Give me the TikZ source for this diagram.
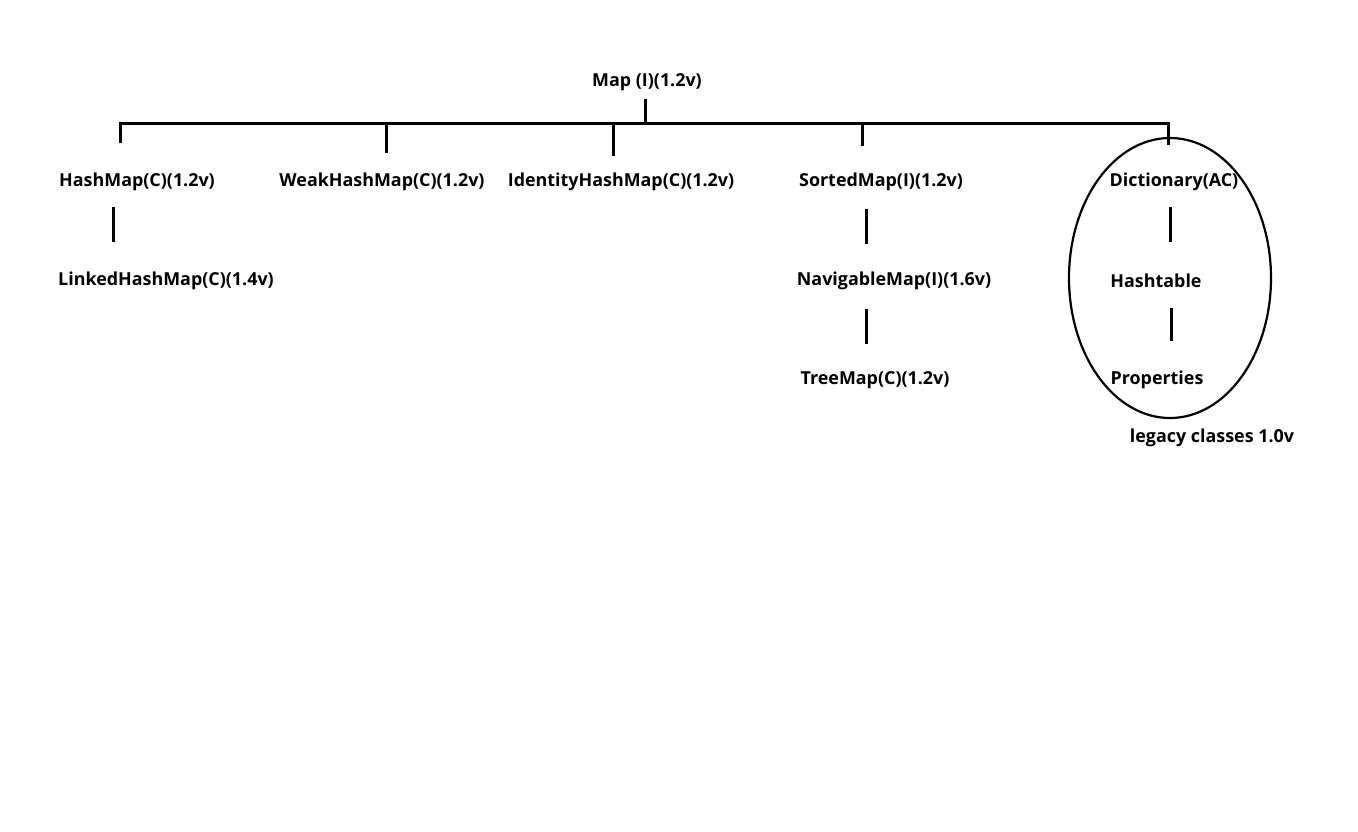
\documentclass[tikz,border=0pt]{standalone}
\usepackage{fontspec}
\setmainfont{Open Sans}
\usetikzlibrary{shapes.geometric}
\begin{document}
\begin{tikzpicture}[x=1pt,y=-1pt,
  cls/.style={inner sep=0pt, font=\fontsize{17.9}{20}\selectfont\bfseries},
  bar/.style={line width=3pt},
  ring/.style={draw, ellipse, line width=2.2pt, inner sep=0pt}]
\useasboundingbox[fill=white] (0,0) rectangle (1358,831);

% class and interface labels
\node[cls] (map)  at (647,82)  {Map (I)(1.2v)};
\node[cls] (hm)   at (137,182) {HashMap(C)(1.2v)};
\node[cls] (whm)  at (382,182) {WeakHashMap(C)(1.2v)};
\node[cls] (ihm)  at (621,182) {IdentityHashMap(C)(1.2v)};
\node[cls] (sm)   at (881,182) {SortedMap(I)(1.2v)};
\node[cls] (dict) at (1174,182) {Dictionary(AC)};
\node[cls] (lhm)  at (166,281) {LinkedHashMap(C)(1.4v)};
\node[cls] (nm)   at (894,281) {NavigableMap(I)(1.6v)};
\node[cls] (ht)   at (1156,281) {Hashtable};
\node[cls] (tm)   at (875,380) {TreeMap(C)(1.2v)};
\node[cls] (prop) at (1157,380) {Properties};
\node[cls] (leg)  at (1212,438) {legacy classes 1.0v};

% ring around the legacy classes
\node[ring, minimum width=202, minimum height=280] (legring) at (1170,278) {};

% stub end points
\coordinate (mapdrop) at (645,99);
\coordinate (barmid)  at (645,123);
\coordinate (barL)    at (120,123);
\coordinate (barR)    at (1168,123);
\coordinate (hmtop)   at (120,143);
\coordinate (whmbar)  at (386,123);
\coordinate (whmtop)  at (386,153);
\coordinate (ihmbar)  at (613,123);
\coordinate (ihmtop)  at (613,156);
\coordinate (smbar)   at (862,123);
\coordinate (smtop)   at (862,146);
\coordinate (dicttop) at (1168,145);
\coordinate (hmA)  at (113,207);  \coordinate (hmB)  at (113,242);
\coordinate (smA)  at (866,209);  \coordinate (smB)  at (866,244);
\coordinate (nmA)  at (866,309);  \coordinate (nmB)  at (866,344);
\coordinate (dA)   at (1170,207); \coordinate (dB)   at (1170,242);
\coordinate (hA)   at (1171,308); \coordinate (hB)   at (1171,341);

% hierarchy lines
\draw[bar] (mapdrop) -- (barmid);
\draw[bar] (hmtop) -- (barL) -- (barR) -- (dicttop);
\draw[bar] (whmbar) -- (whmtop);
\draw[bar] (ihmbar) -- (ihmtop);
\draw[bar] (smbar) -- (smtop);
\draw[bar] (hmA) -- (hmB);
\draw[bar] (smA) -- (smB);
\draw[bar] (nmA) -- (nmB);
\draw[bar] (dA) -- (dB);
\draw[bar] (hA) -- (hB);
\end{tikzpicture}
\end{document}
